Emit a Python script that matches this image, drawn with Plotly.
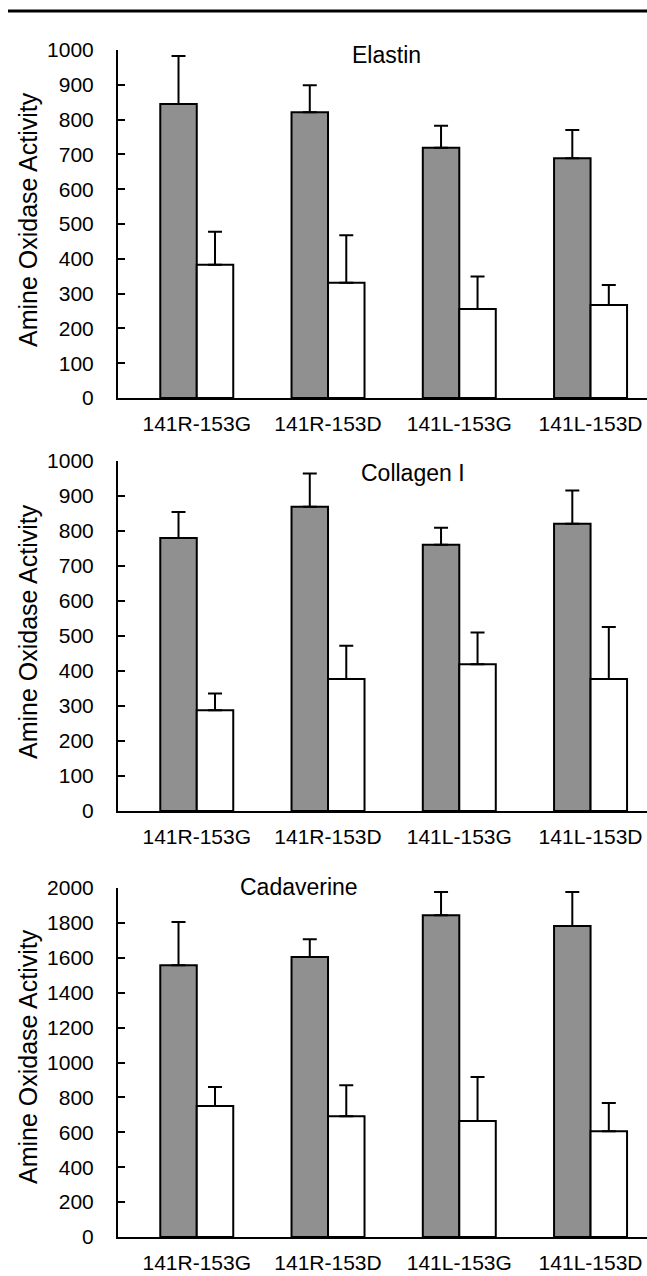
import plotly.graph_objects as go

categories = ["141R-153G", "141R-153D", "141L-153G", "141L-153D"]
panel_titles = ["Elastin", "Collagen I", "Cadaverine"]

elastin_gray = [845, 821, 719, 689]
elastin_gray_err = [138, 78, 63, 81]
elastin_white = [383, 331, 256, 267]
elastin_white_err = [95, 137, 93, 58]

collagen_gray = [780, 869, 761, 821]
collagen_gray_err = [74, 95, 48, 95]
collagen_white = [288, 377, 419, 377]
collagen_white_err = [48, 95, 91, 149]

cadaverine_gray = [1557, 1605, 1844, 1782]
cadaverine_gray_err = [248, 101, 133, 195]
cadaverine_white = [751, 692, 665, 606]
cadaverine_white_err = [109, 177, 252, 162]

y_max = [1000, 1000, 2000]
y_dtick = [100, 100, 200]

W, H = 647, 1276
FONT = "Liberation Sans, Arial, sans-serif"
GRAY = "#909090"

panels = [
    (elastin_gray, elastin_gray_err, elastin_white, elastin_white_err),
    (collagen_gray, collagen_gray_err, collagen_white, collagen_white_err),
    (cadaverine_gray, cadaverine_gray_err, cadaverine_white, cadaverine_white_err),
]
# page-pixel top/bottom of each plot area
px_top = [50, 461, 888]
px_bot = [398, 811, 1237]
px_left = 118
title_pos = [(386, 55), (413, 473), (299, 887)]
ytitle_center = [220, 632, 1057]


def fx(px):
    return px / W


def fy(py):
    return 1 - py / H


fig = go.Figure()
layout = dict(
    width=W, height=H,
    margin=dict(l=0, r=0, t=0, b=0, autoexpand=False),
    paper_bgcolor="white", plot_bgcolor="white",
    showlegend=False,
    barmode="group", bargap=0.444, bargroupgap=0,
    font=dict(family=FONT, color="black"),
)
annotations = []
for i, (g, ge, w, we) in enumerate(panels):
    n = "" if i == 0 else str(i + 1)
    xa, ya = "x" + n, "y" + n
    zeros = [0] * len(categories)
    fig.add_trace(go.Bar(
        x=categories, y=g, xaxis=xa, yaxis=ya,
        marker=dict(color=GRAY, line=dict(color="black", width=2)),
        error_y=dict(type="data", array=ge, arrayminus=zeros, symmetric=False,
                     color="black", thickness=2, width=7),
    ))
    fig.add_trace(go.Bar(
        x=categories, y=w, xaxis=xa, yaxis=ya,
        marker=dict(color="white", line=dict(color="black", width=2)),
        error_y=dict(type="data", array=we, arrayminus=zeros, symmetric=False,
                     color="black", thickness=2, width=7),
    ))
    dom = [fy(px_bot[i]), fy(px_top[i])]
    layout["xaxis" + n] = dict(
        domain=[fx(px_left), 1], anchor=ya, range=[-0.6, 3.43],
        automargin=False, tickangle=0,
        showline=True, linecolor="black", linewidth=2, ticks="",
        showgrid=False, zeroline=False,
        tickfont=dict(family=FONT, size=21, color="black"),
        ticklabelstandoff=6,
    )
    layout["yaxis" + n] = dict(
        domain=dom, anchor=xa, range=[0, y_max[i]], dtick=y_dtick[i],
        automargin=False,
        showline=True, linecolor="black", linewidth=2,
        ticks="inside", ticklen=7, tickwidth=2, tickcolor="black",
        showgrid=False, zeroline=False,
        tickfont=dict(family=FONT, size=21, color="black"),
        ticklabelstandoff=18,
    )
    tx, ty = title_pos[i]
    annotations.append(dict(
        text=panel_titles[i], x=fx(tx), y=fy(ty), xref="paper", yref="paper",
        xanchor="center", yanchor="middle", showarrow=False,
        font=dict(family=FONT, size=23, color="black"),
    ))
    annotations.append(dict(
        text="Amine Oxidase Activity", x=fx(28), y=fy(ytitle_center[i]),
        xref="paper", yref="paper",
        xanchor="center", yanchor="middle", textangle=-90, showarrow=False,
        font=dict(family=FONT, size=25, color="black"),
    ))

layout["annotations"] = annotations
layout["shapes"] = [dict(type="line", xref="paper", yref="paper",
                         x0=fx(8), x1=1, y0=fy(11), y1=fy(11),
                         line=dict(color="black", width=3))]
fig.update_layout(**layout)
fig.write_html(
    "out.html",
    config={"displayModeBar": False},
    post_script="document.body.style.margin='0';document.body.style.overflow='hidden';",
)
